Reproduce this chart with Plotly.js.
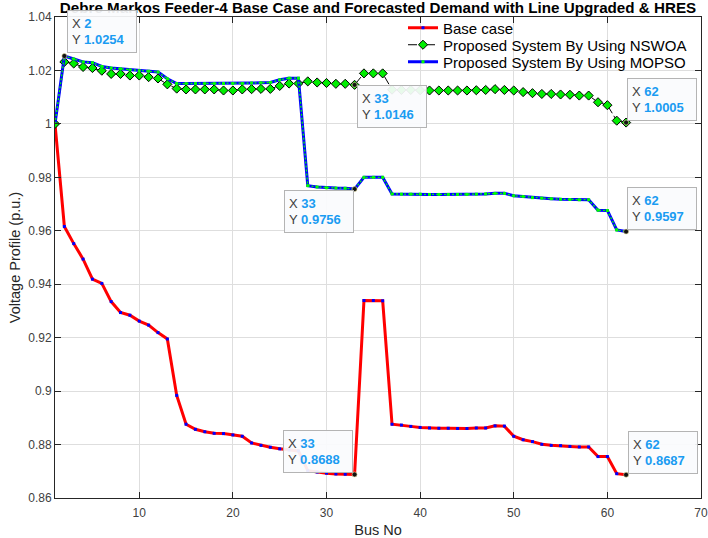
<!DOCTYPE html>
<html>
<head>
<meta charset="utf-8">
<script src="https://cdn.plot.ly/plotly-3.0.1.min.js"></script>
<style>html,body{margin:0;padding:0;background:#fff;}#chart{width:708px;height:538px;}</style>
</head>
<body>
<div id="chart"></div>
<script>
// ---------- data ----------
const busNo = Array.from({length: 62}, (_, i) => i + 1);

const baseCase = [
  1.0000, 0.9616, 0.9552, 0.9494, 0.9419, 0.9403, 0.9335, 0.9294, 0.9284, 0.9262,
  0.9247, 0.9219, 0.9195, 0.8984, 0.8876, 0.8857, 0.8848, 0.8842, 0.8841, 0.8836,
  0.8831, 0.8806, 0.8797, 0.8790, 0.8784, 0.8780, 0.8776, 0.8702, 0.8697, 0.8693,
  0.8690, 0.8689, 0.8688, 0.9339, 0.9339, 0.9338, 0.8876, 0.8873, 0.8868, 0.8864,
  0.8862, 0.8861, 0.8861, 0.8860, 0.8860, 0.8862, 0.8862, 0.8870, 0.8869, 0.8831,
  0.8818, 0.8811, 0.8801, 0.8797, 0.8796, 0.8793, 0.8791, 0.8791, 0.8755, 0.8755,
  0.8691, 0.8687
];

const nswoa = [
  1.0000, 1.0232, 1.0226, 1.0213, 1.0209, 1.0199, 1.0187, 1.0187, 1.0181, 1.0181,
  1.0175, 1.0170, 1.0148, 1.0132, 1.0129, 1.0129, 1.0129, 1.0129, 1.0125, 1.0125,
  1.0129, 1.0130, 1.0131, 1.0131, 1.0142, 1.0151, 1.0151, 1.0159, 1.0155, 1.0153,
  1.0150, 1.0150, 1.0146, 1.0189, 1.0189, 1.0189, 1.0128, 1.0127, 1.0127, 1.0126,
  1.0125, 1.0125, 1.0125, 1.0125, 1.0125, 1.0126, 1.0127, 1.0130, 1.0127, 1.0125,
  1.0119, 1.0115, 1.0112, 1.0112, 1.0110, 1.0109, 1.0106, 1.0106, 1.0081, 1.0070,
  1.0012, 1.0005
];

const mopso = [
  1.0000, 1.0254, 1.0243, 1.0232, 1.0229, 1.0215, 1.0209, 1.0206, 1.0202, 1.0199,
  1.0197, 1.0194, 1.0169, 1.0151, 1.0151, 1.0151, 1.0151, 1.0151, 1.0151, 1.0151,
  1.0151, 1.0153, 1.0154, 1.0155, 1.0165, 1.0171, 1.0171, 0.9769, 0.9764, 0.9761,
  0.9760, 0.9759, 0.9756, 0.9800, 0.9800, 0.9800, 0.9738, 0.9737, 0.9737, 0.9737,
  0.9736, 0.9736, 0.9736, 0.9736, 0.9736, 0.9737, 0.9738, 0.9740, 0.9740, 0.9731,
  0.9728, 0.9724, 0.9722, 0.9720, 0.9718, 0.9717, 0.9716, 0.9716, 0.9677, 0.9676,
  0.9603, 0.9597
];

const seriesNames = ['Base case', 'Proposed System By Using NSWOA', 'Proposed System By Using MOPSO'];

// data tips
const tipX = [2, 33, 33, 62, 62, 33, 62];
const tipY = [1.0254, 1.0146, 0.9756, 1.0005, 0.9597, 0.8688, 0.8687];

// axis ticks
const xTickVals = [10, 20, 30, 40, 50, 60, 70];
const xTickText = ['10', '20', '30', '40', '50', '60', '70'];
const yTickVals = [0.86, 0.88, 0.90, 0.92, 0.94, 0.96, 0.98, 1.00, 1.02, 1.04];
const yTickText = ['0.86', '0.88', '0.9', '0.92', '0.94', '0.96', '0.98', '1', '1.02', '1.04'];

// ---------- styles ----------
const FONT = 'Liberation Sans, Arial, Helvetica, sans-serif';
const AXC = '#262626';
const TIPVAL = '#1a9cf2';
// placement of each data-tip box relative to its point
const tipPlace = [
  {xa: 'left',  ya: 'bottom', dx: 2.5, dy: 3},
  {xa: 'left',  ya: 'top',    dx: 2,   dy: 0},
  {xa: 'right', ya: 'top',    dx: -1,  dy: -1},
  {xa: 'left',  ya: 'bottom', dx: 0.5, dy: 2},
  {xa: 'left',  ya: 'bottom', dx: 0.5, dy: 2},
  {xa: 'right', ya: 'bottom', dx: -2,  dy: 1.5},
  {xa: 'left',  ya: 'bottom', dx: 1.5, dy: 1}
];
// legend row vertical positions (paper fraction)
const legendRowY = [0.9771, 0.9418, 0.9064];

const traces = [
  {
    x: busNo, y: baseCase, name: seriesNames[0], type: 'scatter', mode: 'lines+markers',
    legend: 'legend',
    line: {color: '#ff0000', width: 3},
    marker: {color: '#0000ff', size: 3, symbol: 'square'}
  },
  {
    x: busNo, y: nswoa, name: seriesNames[1], type: 'scatter', mode: 'lines+markers',
    legend: 'legend2',
    line: {color: '#000000', width: 1, dash: 'dashdot'},
    marker: {color: '#00ee00', size: 7, symbol: 'diamond', line: {color: '#000000', width: 1}}
  },
  {
    x: busNo, y: mopso, name: seriesNames[2], type: 'scatter', mode: 'lines+markers',
    legend: 'legend3',
    line: {color: '#0000ff', width: 3},
    marker: {color: '#00ff00', size: 3, symbol: 'square'}
  },
  {
    x: busNo, y: mopso, name: seriesNames[2], type: 'scatter', mode: 'lines', showlegend: false,
    line: {color: '#00ff00', width: 1.3, dash: '2px,2px'}
  },
  {
    x: tipX, y: tipY, type: 'scatter', mode: 'markers', showlegend: false,
    marker: {color: '#111111', size: 5, line: {color: '#e8e0a0', width: 0.6}}
  }
];

const annotations = tipX.map((xv, i) => ({
  x: xv, y: tipY[i], xref: 'x', yref: 'y', showarrow: false,
  xanchor: tipPlace[i].xa, yanchor: tipPlace[i].ya,
  xshift: tipPlace[i].dx, yshift: tipPlace[i].dy,
  align: 'left', width: 60, height: 33, borderpad: 4,
  bgcolor: 'rgba(250,251,253,0.93)', bordercolor: '#b4b4b4', borderwidth: 1,
  font: {family: FONT, size: 13, color: '#404040'},
  text: 'X <span style="color:' + TIPVAL + '"><b>' + xv + '</b></span><br>Y <span style="color:' + TIPVAL + '"><b>' + tipY[i].toFixed(4) + '</b></span>'
}));

function legendBox(yv) {
  return {
    x: 0.5387, y: yv, xanchor: 'left', yanchor: 'middle',
    bgcolor: 'rgba(0,0,0,0)', borderwidth: 0,
    font: {family: FONT, size: 15, color: '#000000'}
  };
}

const layout = {
  width: 708, height: 538,
  margin: {l: 55, r: 7, t: 17, b: 40},
  paper_bgcolor: '#ffffff', plot_bgcolor: '#ffffff',
  font: {family: FONT, color: AXC},
  title: {
    text: '<b>Debre Markos Feeder-4 Base Case and Forecasted Demand with Line Upgraded & HRES</b>',
    font: {family: FONT, size: 15.2, color: '#000000'},
    x: 0.5, xref: 'paper', y: 0.985, yref: 'container', yanchor: 'middle'
  },
  xaxis: {
    range: [1, 70], tickvals: xTickVals, ticktext: xTickText,
    showgrid: true, gridcolor: '#dedede', zeroline: false,
    showline: true, linecolor: AXC, linewidth: 1, mirror: 'ticks',
    ticks: 'inside', ticklen: 6, tickcolor: AXC, ticklabelstandoff: 4,
    tickfont: {family: FONT, size: 12, color: '#404040'},
    title: {text: 'Bus No', font: {family: FONT, size: 14.5, color: AXC}, standoff: 8}
  },
  yaxis: {
    range: [0.86, 1.04], tickvals: yTickVals, ticktext: yTickText,
    showgrid: true, gridcolor: '#dedede', zeroline: false,
    showline: true, linecolor: AXC, linewidth: 1, mirror: 'ticks',
    ticks: 'inside', ticklen: 6, tickcolor: AXC,
    tickfont: {family: FONT, size: 12, color: '#404040'},
    title: {text: 'Voltage Profile (p.u.)', font: {family: FONT, size: 14.5, color: AXC}, standoff: 4}
  },
  legend: legendBox(legendRowY[0]),
  legend2: legendBox(legendRowY[1]),
  legend3: legendBox(legendRowY[2]),
  annotations: annotations,
  showlegend: true
};

Plotly.newPlot('chart', traces, layout, {staticPlot: true, displayModeBar: false});
</script>
</body>
</html>
